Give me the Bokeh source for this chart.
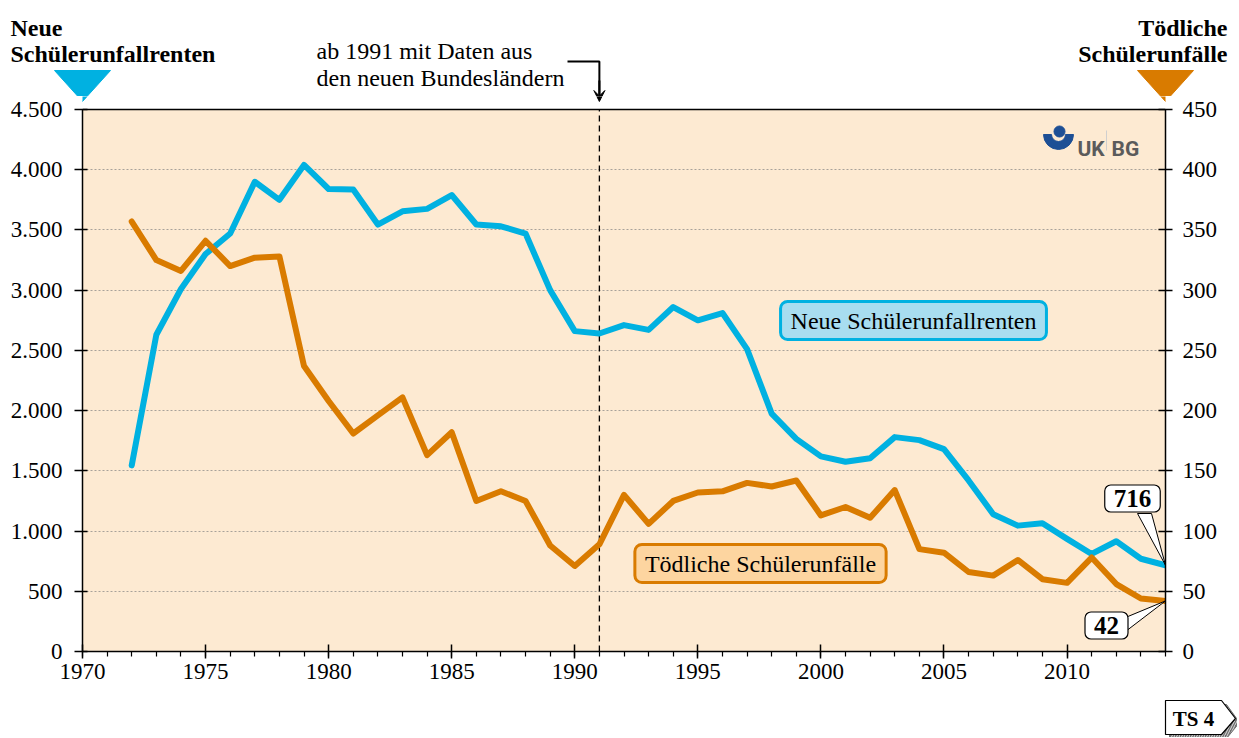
import math
from bokeh.plotting import figure
from bokeh.layouts import column
from bokeh.models import (Range1d, LinearAxis, Span, Label, Arrow, VeeHead,
                          FixedTicker, BoxAnnotation)
from bokeh.embed import file_html
from bokeh.resources import INLINE
from bokeh.core.properties import value

# ---------------- data ----------------
years = list(range(1972, 2015))
renten = [1545, 2630, 3010, 3300, 3470, 3900, 3750, 4040, 3840, 3835,
          3545, 3655, 3675, 3790, 3545, 3530, 3470, 3000, 2660, 2640,
          2710, 2670, 2860, 2750, 2810, 2510, 1975, 1765, 1620, 1575,
          1605, 1780, 1755, 1680, 1420, 1140, 1045, 1065, 935, 810,
          915, 770, 716]
toedlich = [357, 325, 316, 341, 320, 327, 328, 237, 208, 181,
            196, 211, 163, 182, 125, 133, 125, 88, 71, 89,
            130, 106, 125, 132, 133, 140, 137, 142, 113, 120,
            111, 134, 85, 82, 66, 63, 76, 60, 57, 78,
            56, 44, 42]

left_ticks = [0, 500, 1000, 1500, 2000, 2500, 3000, 3500, 4000, 4500]
left_labels = ["0", "500", "1.000", "1.500", "2.000", "2.500", "3.000",
               "3.500", "4.000", "4.500"]
right_ticks = [0, 50, 100, 150, 200, 250, 300, 350, 400, 450]
right_labels = ["0", "50", "100", "150", "200", "250", "300", "350", "400", "450"]
x_ticks = [1970, 1975, 1980, 1985, 1990, 1995, 2000, 2005, 2010]
x_labels = ["1970", "1975", "1980", "1985", "1990", "1995", "2000", "2005", "2010"]
x_minor = list(range(1970, 2015))

label_renten = "Neue Schülerunfallrenten"
label_toedlich = "Tödliche Schülerunfälle"
title_left = ["Neue", "Schülerunfallrenten"]
title_right = ["Tödliche", "Schülerunfälle"]
note_lines = ["ab 1991 mit Daten aus", "den neuen Bundesländern"]
tag_text = "TS 4"
marker_year = 1991

BLUE = "#00B1E1"
ORANGE = "#D97B00"
BG = "#FDEAD2"
SERIF = "Liberation Serif"

# ---------------- layout (page px) ----------------
X_MIN, X_MAX, Y_MAX, Y2_MAX = 1970, 2014, 4500, 450
W = 1237
TOP_H = 96           # header strip height (page y 0..96)
F_L, F_R, F_T, F_B = 82, 1165, 109, 651  # plot-area edges in page pixels
MAIN_BOTTOM = 695    # page y where the main figure ends
BOT_H = 42           # footer strip height


def px2x(px):
    return X_MIN + (px - F_L) / (F_R - F_L) * (X_MAX - X_MIN)


def px2y(py):
    return (F_B - py) / (F_B - F_T) * Y_MAX


marker_px = F_L + (marker_year - X_MIN) / (X_MAX - X_MIN) * (F_R - F_L)
tri_blue = ([54, 110, F_L], [70, 70, 101])
tri_orange = ([1137, 1193, F_R], [70, 70, 101])
arrow_path = ([567, marker_px, marker_px], [61, 61, 95])


def strip(height):
    f = figure(width=W, height=height, x_range=Range1d(0, W),
               y_range=Range1d(height, 0), output_backend="svg",
               toolbar_location=None, min_border=0,
               x_axis_location=None, y_axis_location=None,
               background_fill_color="white", border_fill_color="white",
               outline_line_color=None)
    f.grid.visible = False
    f.frame_align = False
    return f


# ---------------- header strip ----------------
top = strip(TOP_H)
tl = dict(text_font=value(SERIF), text_font_size="24px", text_font_style="bold",
          text_color="black", text_baseline="alphabetic")
top.text(x=[10, 10], y=[27, 53], text=title_left, text_align="left", **tl)
top.text(x=[1227, 1227], y=[27, 53], text=title_right, text_align="right", **tl)
top.patch(*tri_blue, fill_color=BLUE, line_color=BLUE)
top.patch(*tri_orange, fill_color=ORANGE, line_color=ORANGE)
top.text(x=[316, 316], y=[50, 77], text=note_lines, text_font=value(SERIF),
         text_font_size="24px", text_color="black", text_baseline="alphabetic",
         text_align="left")
top.line(*arrow_path, line_color="black", line_width=2)
top.add_layout(Arrow(end=VeeHead(size=11, line_color="black",
                                 fill_color="black", line_width=1),
                     x_start=marker_px, y_start=80, x_end=marker_px,
                     y_end=101, line_width=2, line_color="black"))

# ---------------- main chart ----------------
p = figure(width=W, height=MAIN_BOTTOM - TOP_H, x_range=Range1d(X_MIN, X_MAX),
           y_range=Range1d(0, px2y(TOP_H)), output_backend="svg",
           toolbar_location=None,
           min_border_left=F_L, min_border_right=W - F_R,
           min_border_top=0, min_border_bottom=MAIN_BOTTOM - F_B,
           background_fill_color="white", border_fill_color="white",
           outline_line_color=None)
p.frame_align = False
p.extra_y_ranges = {"right": Range1d(0, px2y(TOP_H) * Y2_MAX / Y_MAX)}

# plot-area background and top border
p.add_layout(BoxAnnotation(bottom=0, top=Y_MAX, fill_color=BG, fill_alpha=1,
                           line_color=None, level="image"))
p.add_layout(Span(location=Y_MAX, dimension="width", line_color="black",
                  line_width=1.5))

p.xaxis.ticker = FixedTicker(ticks=x_ticks, minor_ticks=x_minor)
p.xaxis.major_label_overrides = dict(zip(x_ticks, x_labels))
p.xaxis.major_tick_in = 7
p.xaxis.major_tick_out = 7
p.xaxis.minor_tick_in = 0
p.xaxis.minor_tick_out = 5
p.xaxis.major_label_standoff = 5

p.yaxis.ticker = FixedTicker(ticks=left_ticks, minor_ticks=[])
p.yaxis.major_label_overrides = dict(zip(left_ticks, left_labels))
p.yaxis.bounds = (0, Y_MAX)
p.yaxis.major_tick_in = 5
p.yaxis.major_tick_out = 8
p.yaxis.major_label_standoff = 12

ry = LinearAxis(y_range_name="right", bounds=(0, Y2_MAX),
                ticker=FixedTicker(ticks=right_ticks, minor_ticks=[]))
ry.major_label_overrides = dict(zip(right_ticks, right_labels))
ry.major_tick_in = 7
ry.major_tick_out = 7
ry.major_label_standoff = 10
p.add_layout(ry, "right")

for ax in [p.xaxis[0], p.yaxis[0], ry]:
    ax.axis_line_color = "black"
    ax.axis_line_width = 1.5
    ax.major_tick_line_color = "black"
    ax.major_tick_line_width = 1.5
    ax.minor_tick_line_color = "black"
    ax.minor_tick_line_width = 1.2
    ax.major_label_text_font = SERIF
    ax.major_label_text_font_size = "23px"
    ax.major_label_text_color = "black"

p.xgrid.visible = False
p.ygrid.ticker = FixedTicker(ticks=left_ticks[1:-1])
p.ygrid.grid_line_color = "#A8A29A"
p.ygrid.grid_line_dash = "2 2"
p.ygrid.grid_line_width = 1

# 1991 marker line
p.segment(x0=[marker_year], y0=[0], x1=[marker_year], y1=[Y_MAX],
          line_color="black", line_dash="6 4", line_width=1.3)

# continuation of header decorations into the top of this figure
p.patch([px2x(v) for v in tri_blue[0]], [px2y(v) for v in tri_blue[1]],
        fill_color=BLUE, line_color=BLUE)
p.patch([px2x(v) for v in tri_orange[0]], [px2y(v) for v in tri_orange[1]],
        fill_color=ORANGE, line_color=ORANGE)
p.add_layout(Arrow(end=VeeHead(size=11, line_color="black", fill_color="black",
                               line_width=1),
                   x_start=marker_year, y_start=px2y(80), x_end=marker_year,
                   y_end=px2y(101), line_width=2, line_color="black"))

# data lines
p.line(years, renten, line_color=BLUE, line_width=6, line_join="round",
       line_cap="round")
p.line(years, toedlich, y_range_name="right", line_color=ORANGE,
       line_width=6, line_join="round", line_cap="round")

common = dict(text_font=SERIF, text_font_size="24px", text_color="black",
              text_align="center", text_baseline="middle",
              border_line_width=3, border_radius=7, padding=(10, 6))
p.add_layout(Label(x=px2x(913), y=px2y(320), text=label_renten,
                   background_fill_color="#A8DDF0", border_line_color=BLUE,
                   **common))
p.add_layout(Label(x=px2x(760), y=px2y(563), text=label_toedlich,
                   background_fill_color="#FDD5A0", border_line_color=ORANGE,
                   **common))

last_year = years[-1]
p.patch([px2x(1137), px2x(1151), last_year],
        [px2y(513), px2y(513), renten[-1]],
        fill_color="white", line_color="black", line_width=1)
p.patch([px2x(1125), px2x(1125), last_year],
        [px2y(617), px2y(631), toedlich[-1] * Y_MAX / Y2_MAX],
        fill_color="white", line_color="black", line_width=1)
call = dict(text_font=SERIF, text_font_size="25px", text_font_style="bold",
            text_color="black", text_align="center", text_baseline="middle",
            background_fill_color="white", border_line_color="black",
            border_line_width=1.2, border_radius=6, padding=(9, 5))
p.add_layout(Label(x=px2x(1132), y=px2y(498), text=str(renten[-1]), **call))
p.add_layout(Label(x=px2x(1106), y=px2y(625), text=str(toedlich[-1]), **call))

# logo
p.annular_wedge(x=px2x(1058), y=px2y(134), inner_radius=7, outer_radius=15,
                inner_radius_units="screen", outer_radius_units="screen",
                start_angle=math.pi, end_angle=2 * math.pi,
                fill_color="#1D4F95", line_color="#1D4F95")
p.scatter(x=[px2x(1059)], y=[px2y(131)], size=11, fill_color="#1D4F95",
          line_color="#1D4F95")
p.text(x=[px2x(1077), px2x(1111)], y=[px2y(148), px2y(148)], text=["UK", "BG"],
       text_font=value("Roboto"), text_font_size="21px",
       text_font_style="bold", text_color="#5B5B5B",
       text_baseline="alphabetic")
p.segment(x0=[px2x(1106)], y0=[px2y(130)], x1=[px2x(1106)], y1=[px2y(150)],
          line_color="#CFCFCF", line_width=1)

# ---------------- footer strip ----------------
bot = strip(BOT_H)
o = MAIN_BOTTOM
bot.patch([1169, 1226, 1239, 1226, 1169],
          [704 - o, 704 - o, 722 - o, 738 - o, 738 - o],
          fill_color="#6E6E6E", line_color="#6E6E6E", hatch_pattern="/",
          hatch_color="#DDDDDD", hatch_scale=5)
bot.patch([1165, 1221, 1235, 1221, 1165],
          [700 - o, 700 - o, 718 - o, 734 - o, 734 - o],
          fill_color="white", line_color="black", line_width=1.2)
bot.text(x=[1193], y=[718 - o], text=[tag_text], text_font=value(SERIF),
         text_font_size="21px", text_font_style="bold", text_color="black",
         text_align="center", text_baseline="middle")

layout = column(top, p, bot, spacing=0)
open("out.html", "w").write(file_html(layout, INLINE))
